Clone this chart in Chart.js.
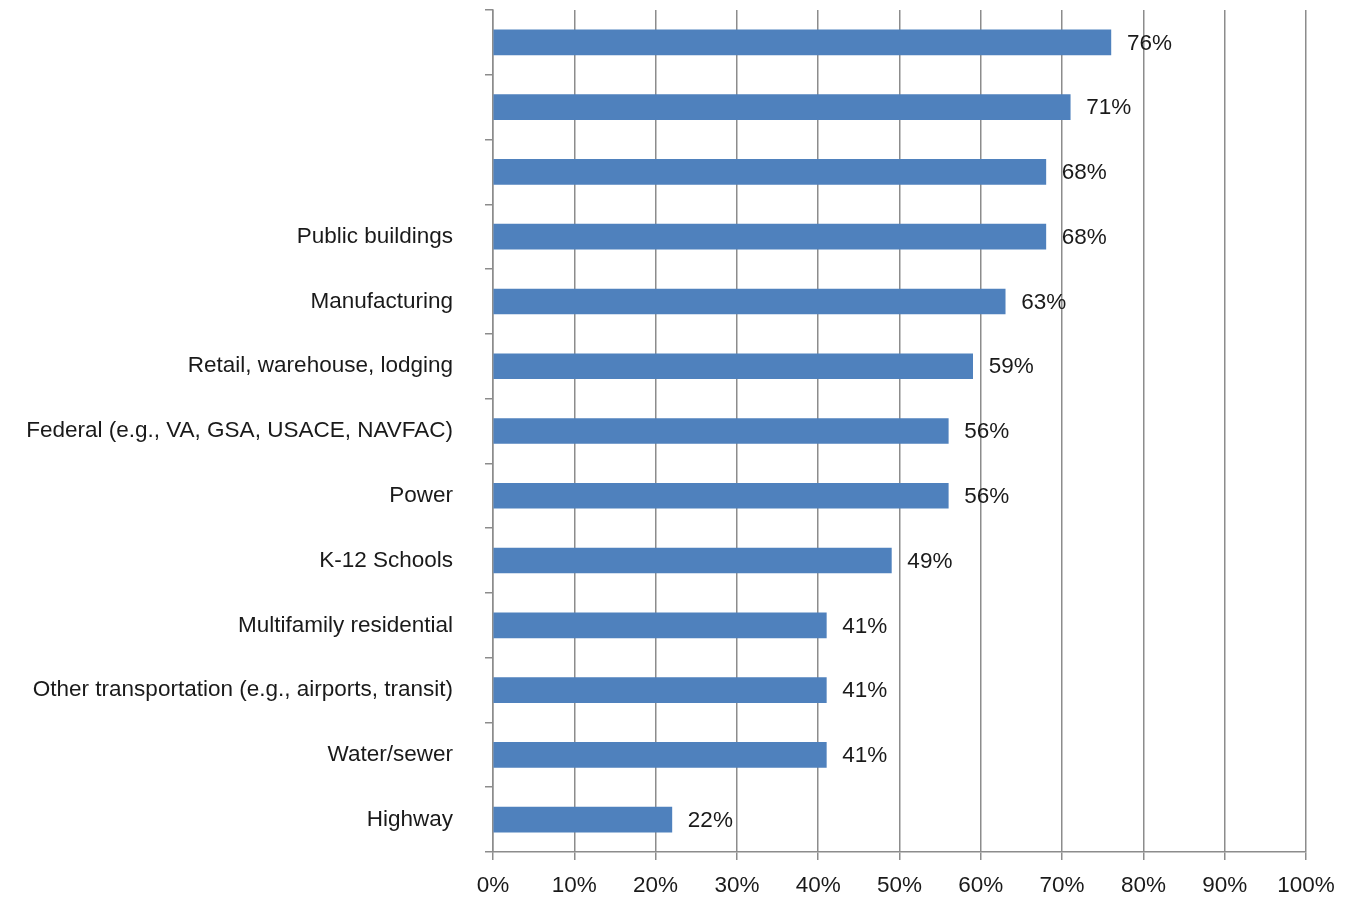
<!DOCTYPE html>
<html>
<head>
<meta charset="utf-8">
<script src="https://cdn.jsdelivr.net/npm/chart.js@4.4.1/dist/chart.umd.min.js"></script>
<style>
  html, body { margin: 0; padding: 0; background: #ffffff; }
  #wrap { width: 1358px; height: 898px; position: relative; }
</style>
</head>
<body>
<div id="wrap"><canvas id="c" width="1358" height="898"></canvas></div>
<script>
const categories = [
  "", "", "",
  "Public buildings",
  "Manufacturing",
  "Retail, warehouse, lodging",
  "Federal (e.g., VA, GSA, USACE, NAVFAC)",
  "Power",
  "K-12 Schools",
  "Multifamily residential",
  "Other transportation (e.g., airports, transit)",
  "Water/sewer",
  "Highway"
];
const values = [76, 71, 68, 68, 63, 59, 56, 56, 49, 41, 41, 41, 22];
const xTickValues = [0, 10, 20, 30, 40, 50, 60, 70, 80, 90, 100];

const FONT = "'Liberation Sans', Arial, sans-serif";
const FONT_SIZE = 22.5;
const GRID = '#8c8c8c';
const TEXT = '#1a1a1a';

const valueLabels = {
  id: 'valueLabels',
  afterDatasetsDraw(chart) {
    const ctx = chart.ctx;
    const meta = chart.getDatasetMeta(0);
    ctx.save();
    ctx.font = FONT_SIZE + 'px ' + FONT;
    ctx.fillStyle = TEXT;
    ctx.textAlign = 'left';
    ctx.textBaseline = 'middle';
    meta.data.forEach((bar, i) => {
      ctx.fillText(values[i] + '%', bar.x + 16, bar.y + 1);
    });
    ctx.restore();
  }
};

new Chart(document.getElementById('c'), {
  type: 'bar',
  data: {
    labels: categories,
    datasets: [{
      data: values,
      backgroundColor: '#4F81BD',
      borderWidth: 0,
      barThickness: 25
    }]
  },
  options: {
    indexAxis: 'y',
    responsive: false,
    animation: false,
    devicePixelRatio: 1,
    layout: { padding: { top: 10, right: 52, bottom: 0, left: 0 } },
    plugins: { legend: { display: false }, tooltip: { enabled: false } },
    scales: {
      x: {
        min: 0, max: 100,
        afterBuildTicks(scale) { scale.ticks = xTickValues.map(v => ({ value: v })); },
        afterFit(scale) { scale.height = 46; },
        grid: {
          color: GRID, lineWidth: 1.5, drawOnChartArea: true, drawTicks: true,
          tickLength: 8, tickColor: GRID
        },
        border: { display: true, color: GRID, width: 1.5 },
        ticks: {
          callback: v => v + '%',
          font: { family: FONT, size: FONT_SIZE },
          color: TEXT,
          padding: 12,
          maxRotation: 0
        }
      },
      y: {
        offset: true,
        afterFit(scale) { scale.width = 493; scale.paddingTop = 0; scale.paddingBottom = 0; },
        grid: {
          offset: true, drawOnChartArea: false, drawTicks: true,
          tickLength: 8, color: GRID, tickColor: GRID, lineWidth: 1.5
        },
        border: { display: true, color: GRID, width: 1.5 },
        ticks: {
          font: { family: FONT, size: FONT_SIZE },
          color: TEXT,
          padding: 32,
          autoSkip: false
        }
      }
    }
  },
  plugins: [valueLabels]
});
</script>
</body>
</html>
